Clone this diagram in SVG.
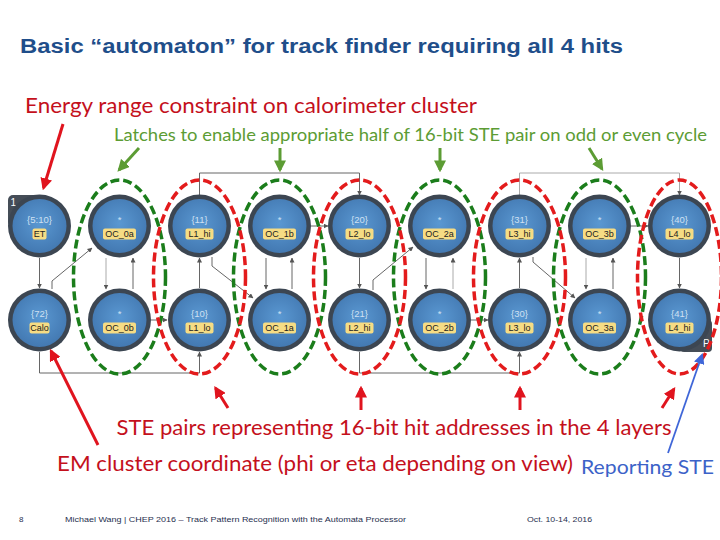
<svg xmlns="http://www.w3.org/2000/svg" width="720" height="540" viewBox="0 0 720 540">
<defs>
<radialGradient id="nodeFill" cx="50%" cy="45%" r="55%">
<stop offset="0%" stop-color="#5a98d2"/>
<stop offset="100%" stop-color="#4379b2"/>
</radialGradient>
<marker id="ah" viewBox="0 0 10 10" refX="9" refY="5" markerWidth="5" markerHeight="5" orient="auto-start-reverse" markerUnits="userSpaceOnUse">
<path d="M0,0 L10,5 L0,10 z" fill="#555"/>
</marker>
<marker id="ahRed" viewBox="0 0 10 10" refX="8" refY="5" markerWidth="4" markerHeight="4" orient="auto">
<path d="M0,0 L10,5 L0,10 z" fill="#e0141e"/>
</marker>
<marker id="ahGreen" viewBox="0 0 10 10" refX="8" refY="5" markerWidth="4" markerHeight="4" orient="auto">
<path d="M0,0 L10,5 L0,10 z" fill="#5c9c34"/>
</marker>
<marker id="ahBlue" viewBox="0 0 10 10" refX="8" refY="5" markerWidth="6" markerHeight="6" orient="auto">
<path d="M0,0 L10,5 L0,10 z" fill="#3f66d8"/>
</marker>
</defs>
<style>
.ring{fill:#3c4652}
.core{fill:url(#nodeFill)}
.val{font-family:"Liberation Sans",Arial,sans-serif;font-size:9.5px;fill:#cfe0f2;text-anchor:middle}
.lblbox{fill:#f6dc84}
.lbl{font-family:"Liberation Sans",Arial,sans-serif;font-size:9px;fill:#222;text-anchor:middle}
.conn{fill:none;stroke:#666;stroke-width:1;marker-end:url(#ah)}
.connLight{fill:none;stroke:#aaa;stroke-width:1;marker-end:url(#ah)}
.grp{fill:none;stroke-width:3.5;stroke-dasharray:9 4}
.gr{stroke:#1b7d1b}
.rd{stroke:#e31b1c}
.ann{font-family:Lato,"Open Sans","Liberation Sans",sans-serif}
.redT{fill:#c4101c}
.greenT{fill:#5c9c34}
.blueT{fill:#3c62c8}
.aRed{stroke:#e0141e;stroke-width:3;fill:none;marker-end:url(#ahRed)}
.aGreen{stroke:#5c9c34;stroke-width:3;fill:none;marker-end:url(#ahGreen)}
.aBlue{stroke:#3f66d8;stroke-width:1.8;fill:none;marker-end:url(#ahBlue)}
.foot{font-family:"Liberation Sans",Arial,sans-serif;font-size:8px;fill:#1f2f4f}
.badge{fill:#454d57}
.badgeT{font-family:"Liberation Sans",Arial,sans-serif;font-size:10px;fill:#fff}
</style>
<rect width="720" height="540" fill="#ffffff"/>

<text x="20" y="52.5" font-family="Liberation Sans,Arial,sans-serif" font-weight="bold" font-size="20" fill="#1f4e8a" textLength="603" lengthAdjust="spacingAndGlyphs">Basic “automaton” for track finder requiring all 4 hits</text>

<text class="ann redT" x="25" y="113" font-size="21.5" textLength="452" lengthAdjust="spacingAndGlyphs">Energy range constraint on calorimeter cluster</text>
<text class="ann greenT" x="114" y="140.5" font-size="17.5" textLength="593" lengthAdjust="spacingAndGlyphs">Latches to enable appropriate half of 16-bit STE pair on odd or even cycle</text>

<g id="badges">
<rect class="badge" x="8" y="195" width="32" height="32" rx="5"/>
<text class="badgeT" x="10.5" y="206">1</text>
<rect class="badge" x="680" y="320" width="32" height="32" rx="4"/>
<text class="badgeT" x="703" y="347">P</text>
</g>

<g id="connectors">
<path class="conn" d="M39.5,258 V288"/>
<path class="conn" d="M52,289 V281 L92,248"/>
<path class="connLight" d="M106,258 V289"/>
<path class="conn" d="M133,289 V258"/>
<path class="conn" d="M151,320 H167"/>
<path class="conn" d="M39.5,352 V373 H199.5 V352"/>
<path class="conn" d="M199.5,288 V258"/>
<path class="conn" d="M212,257 V266 L253,298"/>
<path class="conn" d="M199.5,195 V173 H359.5 V195"/>
<path class="conn" d="M266,258 V289"/>
<path class="conn" d="M292,289 V258"/>
<path class="conn" d="M311,226 H328"/>
<path class="conn" d="M359.5,258 V288"/>
<path class="conn" d="M373,290 V280 L413,247"/>
<path class="conn" d="M426,258 V289"/>
<path class="connLight" d="M453,289 V258"/>
<path class="conn" d="M471,320 H488"/>
<path class="conn" d="M359.5,352 V373 H519.5 V352"/>
<path class="conn" d="M519.5,288 V258"/>
<path class="conn" d="M533,257 V262 L575,298"/>
<path class="connLight" d="M519.5,195 V173 H679.5 V195"/>
<path class="connLight" d="M586,258 V289"/>
<path class="conn" d="M613,289 V258"/>
<path class="conn" d="M631,226 H648"/>
<path class="conn" d="M679.5,258 V288"/>
</g>

<g id="n_ET" transform="translate(39.5,226)"><circle class="ring" r="31.5"/><circle class="core" r="27"/><text class="val" y="-3">{5:10}</text><rect class="lblbox" x="-7" y="2.5" width="14" height="11" rx="2"/><text class="lbl" y="11">ET</text></g>
<g id="n_OC_0a" transform="translate(119.5,226)"><circle class="ring" r="31.5"/><circle class="core" r="27"/><text class="val" y="-3">*</text><rect class="lblbox" x="-16.5" y="2.5" width="33" height="11" rx="2"/><text class="lbl" y="11">OC_0a</text></g>
<g id="n_L1_hi" transform="translate(199.5,226)"><circle class="ring" r="31.5"/><circle class="core" r="27"/><text class="val" y="-3">{11}</text><rect class="lblbox" x="-14" y="2.5" width="28" height="11" rx="2"/><text class="lbl" y="11">L1_hi</text></g>
<g id="n_OC_1b" transform="translate(279.5,226)"><circle class="ring" r="31.5"/><circle class="core" r="27"/><text class="val" y="-3">*</text><rect class="lblbox" x="-16.5" y="2.5" width="33" height="11" rx="2"/><text class="lbl" y="11">OC_1b</text></g>
<g id="n_L2_lo" transform="translate(359.5,226)"><circle class="ring" r="31.5"/><circle class="core" r="27"/><text class="val" y="-3">{20}</text><rect class="lblbox" x="-14" y="2.5" width="28" height="11" rx="2"/><text class="lbl" y="11">L2_lo</text></g>
<g id="n_OC_2a" transform="translate(439.5,226)"><circle class="ring" r="31.5"/><circle class="core" r="27"/><text class="val" y="-3">*</text><rect class="lblbox" x="-16.5" y="2.5" width="33" height="11" rx="2"/><text class="lbl" y="11">OC_2a</text></g>
<g id="n_L3_hi" transform="translate(519.5,226)"><circle class="ring" r="31.5"/><circle class="core" r="27"/><text class="val" y="-3">{31}</text><rect class="lblbox" x="-14" y="2.5" width="28" height="11" rx="2"/><text class="lbl" y="11">L3_hi</text></g>
<g id="n_OC_3b" transform="translate(599.5,226)"><circle class="ring" r="31.5"/><circle class="core" r="27"/><text class="val" y="-3">*</text><rect class="lblbox" x="-16.5" y="2.5" width="33" height="11" rx="2"/><text class="lbl" y="11">OC_3b</text></g>
<g id="n_L4_lo" transform="translate(679.5,226)"><circle class="ring" r="31.5"/><circle class="core" r="27"/><text class="val" y="-3">{40}</text><rect class="lblbox" x="-14" y="2.5" width="28" height="11" rx="2"/><text class="lbl" y="11">L4_lo</text></g>

<g id="n_Calo" transform="translate(39.5,320)"><circle class="ring" r="31.5"/><circle class="core" r="27"/><text class="val" y="-3">{72}</text><rect class="lblbox" x="-10" y="2.5" width="20" height="11" rx="2"/><text class="lbl" y="11">Calo</text></g>
<g id="n_OC_0b" transform="translate(119.5,320)"><circle class="ring" r="31.5"/><circle class="core" r="27"/><text class="val" y="-3">*</text><rect class="lblbox" x="-16.5" y="2.5" width="33" height="11" rx="2"/><text class="lbl" y="11">OC_0b</text></g>
<g id="n_L1_lo" transform="translate(199.5,320)"><circle class="ring" r="31.5"/><circle class="core" r="27"/><text class="val" y="-3">{10}</text><rect class="lblbox" x="-14" y="2.5" width="28" height="11" rx="2"/><text class="lbl" y="11">L1_lo</text></g>
<g id="n_OC_1a" transform="translate(279.5,320)"><circle class="ring" r="31.5"/><circle class="core" r="27"/><text class="val" y="-3">*</text><rect class="lblbox" x="-16.5" y="2.5" width="33" height="11" rx="2"/><text class="lbl" y="11">OC_1a</text></g>
<g id="n_L2_hi" transform="translate(359.5,320)"><circle class="ring" r="31.5"/><circle class="core" r="27"/><text class="val" y="-3">{21}</text><rect class="lblbox" x="-14" y="2.5" width="28" height="11" rx="2"/><text class="lbl" y="11">L2_hi</text></g>
<g id="n_OC_2b" transform="translate(439.5,320)"><circle class="ring" r="31.5"/><circle class="core" r="27"/><text class="val" y="-3">*</text><rect class="lblbox" x="-16.5" y="2.5" width="33" height="11" rx="2"/><text class="lbl" y="11">OC_2b</text></g>
<g id="n_L3_lo" transform="translate(519.5,320)"><circle class="ring" r="31.5"/><circle class="core" r="27"/><text class="val" y="-3">{30}</text><rect class="lblbox" x="-14" y="2.5" width="28" height="11" rx="2"/><text class="lbl" y="11">L3_lo</text></g>
<g id="n_OC_3a" transform="translate(599.5,320)"><circle class="ring" r="31.5"/><circle class="core" r="27"/><text class="val" y="-3">*</text><rect class="lblbox" x="-16.5" y="2.5" width="33" height="11" rx="2"/><text class="lbl" y="11">OC_3a</text></g>
<g id="n_L4_hi" transform="translate(679.5,320)"><circle class="ring" r="31.5"/><circle class="core" r="27"/><text class="val" y="-3">{41}</text><rect class="lblbox" x="-14" y="2.5" width="28" height="11" rx="2"/><text class="lbl" y="11">L4_hi</text></g>

<g id="groupings">
<ellipse class="grp gr" cx="119.5" cy="277" rx="46" ry="97"/>
<ellipse class="grp gr" cx="279.5" cy="277" rx="46" ry="97"/>
<ellipse class="grp gr" cx="439.5" cy="277" rx="46" ry="97"/>
<ellipse class="grp gr" cx="599.5" cy="277" rx="46" ry="97"/>
<ellipse class="grp rd" cx="199.5" cy="277" rx="46" ry="97"/>
<ellipse class="grp rd" cx="359.5" cy="277" rx="46" ry="97"/>
<ellipse class="grp rd" cx="519.5" cy="277" rx="46" ry="97"/>
<ellipse class="grp rd" cx="679.5" cy="277" rx="42" ry="97"/>
</g>

<g id="annotation-arrows">
<path class="aRed" d="M63,124 L43.5,188"/>
<path class="aGreen" d="M139,148 L119,170"/>
<path class="aGreen" d="M280,148 V170"/>
<path class="aGreen" d="M440,148 V170"/>
<path class="aGreen" d="M589,148 L602,169"/>
<path class="aRed" d="M98,445 L51,351"/>
<path class="aRed" d="M228,408 L215.5,388"/>
<path class="aRed" d="M361,410 V388"/>
<path class="aRed" d="M520,410 V388"/>
<path class="aRed" d="M662,408 L674,389"/>
<path class="aBlue" d="M668,453 L702,355"/>
</g>

<text class="ann redT" x="116.5" y="435" font-size="21" textLength="555" lengthAdjust="spacingAndGlyphs">STE pairs representing 16-bit hit addresses in the 4 layers</text>
<text class="ann redT" x="57" y="471" font-size="21" textLength="516" lengthAdjust="spacingAndGlyphs">EM cluster coordinate (phi or eta depending on view)</text>
<text class="ann blueT" x="581" y="473.5" font-size="19" textLength="133" lengthAdjust="spacingAndGlyphs">Reporting STE</text>

<text class="foot" x="19" y="522">8</text>
<text class="foot" x="65" y="522" textLength="341" lengthAdjust="spacingAndGlyphs">Michael Wang | CHEP 2016 – Track Pattern Recognition with the Automata Processor</text>
<text class="foot" x="527" y="522" textLength="65" lengthAdjust="spacingAndGlyphs">Oct. 10-14, 2016</text>
</svg>
